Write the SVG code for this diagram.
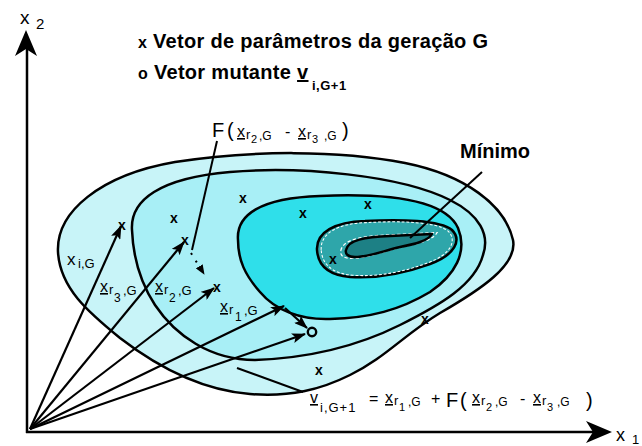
<svg xmlns="http://www.w3.org/2000/svg" width="642" height="446" viewBox="0 0 642 446">
<style>
text{font-family:"Liberation Sans",Arial,sans-serif;fill:#000}
.b{font-weight:bold}
.u{text-decoration:underline}
.cont{stroke:#000;stroke-width:2.5;stroke-linejoin:round}
.wd{fill:none;stroke:#fff;stroke-width:1.1;stroke-dasharray:3 2}
.arr{stroke:#000;stroke-width:2.2;fill:none;marker-end:url(#ah)}
.ln{stroke:#000;stroke-width:2;fill:none}
.mk{font-weight:bold;font-size:14px;text-anchor:middle}
</style>
<defs>
<marker id="ah" viewBox="0 0 14 10" refX="13" refY="5" markerWidth="14" markerHeight="10" markerUnits="userSpaceOnUse" orient="auto"><path d="M0,0 L14,5 L0,10 L3,5 Z" fill="#000"/></marker>
<marker id="ahs" viewBox="0 0 10 8" refX="9" refY="4" markerWidth="10" markerHeight="8" markerUnits="userSpaceOnUse" orient="auto"><path d="M0,0 L10,4 L0,8 Z" fill="#000"/></marker>
</defs>
<rect width="642" height="446" fill="#fff"/>

<g id="contours">
<path id="c1" class="cont" fill="#c8f4f8" d="M58,252 C56,212 100,175 175,162 C250,150 340,150 405,163 C465,175 505,205 513,240 C518,265 480,290 440,313 C405,334 385,358 350,375 C320,390 290,397 250,394 C200,390 155,365 120,338 C88,312 60,288 58,252 Z"/>
<path id="c2" class="cont" fill="#a8eff6" d="M132,230 C130,200 160,178 230,172 C300,166 400,175 450,200 C480,215 490,235 483,255 C475,285 440,305 400,325 C360,345 310,358 255,360 C210,360 175,335 155,305 C140,282 133,255 132,230 Z"/>
<path id="c3" class="cont" fill="#2fdfea" d="M238,240 C236,215 260,198 320,196 C390,193 445,200 458,228 C468,252 455,275 430,292 C400,310 370,318 330,319 C300,320 275,310 260,292 C245,275 238,260 238,240 Z"/>
<path id="c4" class="cont" fill="#2ea6aa" d="M317,250 C316,232 335,222 365,221 C400,219 440,220 452,230 C462,240 455,255 430,264 C405,273 380,279 350,277 C328,275 318,265 317,250 Z"/>
<path class="wd" transform="translate(387,248) scale(0.94) translate(-387,-248)" d="M317,250 C316,232 335,222 365,221 C400,219 440,220 452,230 C462,240 455,255 430,264 C405,273 380,279 350,277 C328,275 318,265 317,250 Z"/>
<path class="wd" transform="translate(389,246) scale(1.12) translate(-389,-246)" d="M346,250 C348,240 365,237 390,236 L432,234 C428,241 415,244 400,247 C380,252 368,257 355,257 C348,257 345,254 346,250 Z"/>
<path id="c5" class="cont" fill="#1d8085" d="M346,250 C348,240 365,237 390,236 L432,234 C428,241 415,244 400,247 C380,252 368,257 355,257 C348,257 345,254 346,250 Z"/>
</g>

<g id="axes">
<line x1="27" y1="433" x2="27" y2="45" stroke="#000" stroke-width="2.5"/>
<path d="M26,30 L37,56 L26,49 L15,56 Z" fill="#000"/>
<line x1="26" y1="432" x2="598" y2="432" stroke="#000" stroke-width="2.5"/>
<path d="M612,432 L586,421 L593,432 L586,443 Z" fill="#000"/>
<text x="20" y="24" font-size="19">x</text>
<text x="36" y="29" font-size="15">2</text>
<text x="616" y="441" font-size="18">x</text>
<text x="632" y="444" font-size="13">1</text>
</g>

<g id="legend">
<text class="b" x="138" y="48" font-size="20" letter-spacing="0.3"><tspan font-size="16">x</tspan> Vetor de parâmetros da geração G</text>
<text class="b" x="138" y="79" font-size="20" letter-spacing="0.3"><tspan font-size="16">o</tspan> Vetor mutante <tspan class="u">v</tspan></text>
<text class="b" x="312" y="90" font-size="13" letter-spacing="0.5">i,G+1</text>
</g>

<g id="markers">
<text class="mk" x="174" y="223">x</text>
<text class="mk" x="243" y="203">x</text>
<text class="mk" x="303" y="218">x</text>
<text class="mk" x="368" y="209">x</text>
<text class="mk" x="333" y="264">x</text>
<text class="mk" x="425" y="324">x</text>
<text class="mk" x="319" y="375">x</text>
<text class="mk" x="122" y="230">x</text>
<text class="mk" x="185" y="245">x</text>
<text class="mk" x="217" y="292">x</text>
<circle cx="312" cy="332" r="4.2" fill="none" stroke="#000" stroke-width="2.4"/>
</g>

<g id="connectors">
<line class="arr" x1="30" y1="429" x2="121" y2="226"/>
<line class="arr" x1="30" y1="429" x2="184" y2="242"/>
<line class="arr" x1="30" y1="429" x2="214" y2="288"/>
<line class="arr" x1="30" y1="429" x2="284" y2="306"/>
<line class="arr" x1="30" y1="429" x2="305" y2="334"/>
<line class="arr" x1="285" y1="308" x2="307" y2="328"/>
<line x1="191" y1="253" x2="204" y2="274" stroke="#000" stroke-width="2" stroke-dasharray="2 7" marker-end="url(#ahs)"/>
<line class="ln" x1="217" y1="141" x2="192" y2="250"/>
<line class="ln" x1="237" y1="368" x2="303" y2="392"/>
<line class="ln" x1="482" y1="172" x2="410" y2="238"/>
</g>

<g id="labels">
<text class="b" x="460" y="158" font-size="20">Mínimo</text>

<text id="lbl-F">
<tspan x="212" y="137" font-size="20">F</tspan><tspan x="227" y="137" font-size="20">(</tspan><tspan class="u" x="237" y="137" font-size="16">x</tspan><tspan x="246" y="139" font-size="13">r</tspan><tspan x="251" y="143" font-size="11">2</tspan><tspan x="259" y="140" font-size="12">,G</tspan><tspan x="285" y="137" font-size="16">-</tspan><tspan class="u" x="298" y="137" font-size="16">x</tspan><tspan x="307" y="139" font-size="13">r</tspan><tspan x="312" y="143" font-size="11">3</tspan><tspan x="324" y="140" font-size="12">,G</tspan><tspan x="342" y="137" font-size="20">)</tspan>
</text>

<text id="lbl-xi"><tspan x="67" y="265" font-size="17">x</tspan><tspan x="78" y="268" font-size="13">i,G</tspan></text>
<text id="lbl-xr3"><tspan class="u" x="100" y="292" font-size="16">x</tspan><tspan x="109" y="294" font-size="13">r</tspan><tspan x="114" y="302" font-size="12">3</tspan><tspan x="123" y="295" font-size="13">,G</tspan></text>
<text id="lbl-xr2"><tspan class="u" x="155" y="292" font-size="16">x</tspan><tspan x="164" y="294" font-size="13">r</tspan><tspan x="169" y="302" font-size="12">2</tspan><tspan x="178" y="295" font-size="13">,G</tspan></text>
<text id="lbl-xr1"><tspan class="u" x="220" y="312" font-size="16">x</tspan><tspan x="229" y="314" font-size="13">r</tspan><tspan x="235" y="321" font-size="12">1</tspan><tspan x="244" y="315" font-size="13">,G</tspan></text>

<text id="formula">
<tspan class="u" x="310" y="403" font-size="16">v</tspan><tspan x="320" y="412" font-size="13" letter-spacing="1">i,G+1</tspan><tspan x="369" y="404" font-size="16">=</tspan><tspan class="u" x="385" y="403" font-size="16">x</tspan><tspan x="394" y="405" font-size="13">r</tspan><tspan x="399" y="411" font-size="11">1</tspan><tspan x="408" y="406" font-size="12">,G</tspan><tspan x="431" y="404" font-size="16">+</tspan><tspan x="446" y="407" font-size="20">F</tspan><tspan x="460" y="407" font-size="20">(</tspan><tspan class="u" x="472" y="403" font-size="16">x</tspan><tspan x="481" y="405" font-size="13">r</tspan><tspan x="486" y="411" font-size="11">2</tspan><tspan x="495" y="406" font-size="12">,G</tspan><tspan x="520" y="404" font-size="16">-</tspan><tspan class="u" x="533" y="403" font-size="16">x</tspan><tspan x="542" y="405" font-size="13">r</tspan><tspan x="547" y="411" font-size="11">3</tspan><tspan x="557" y="406" font-size="12">,G</tspan><tspan x="586" y="407" font-size="20">)</tspan>
</text>
</g>
</svg>
